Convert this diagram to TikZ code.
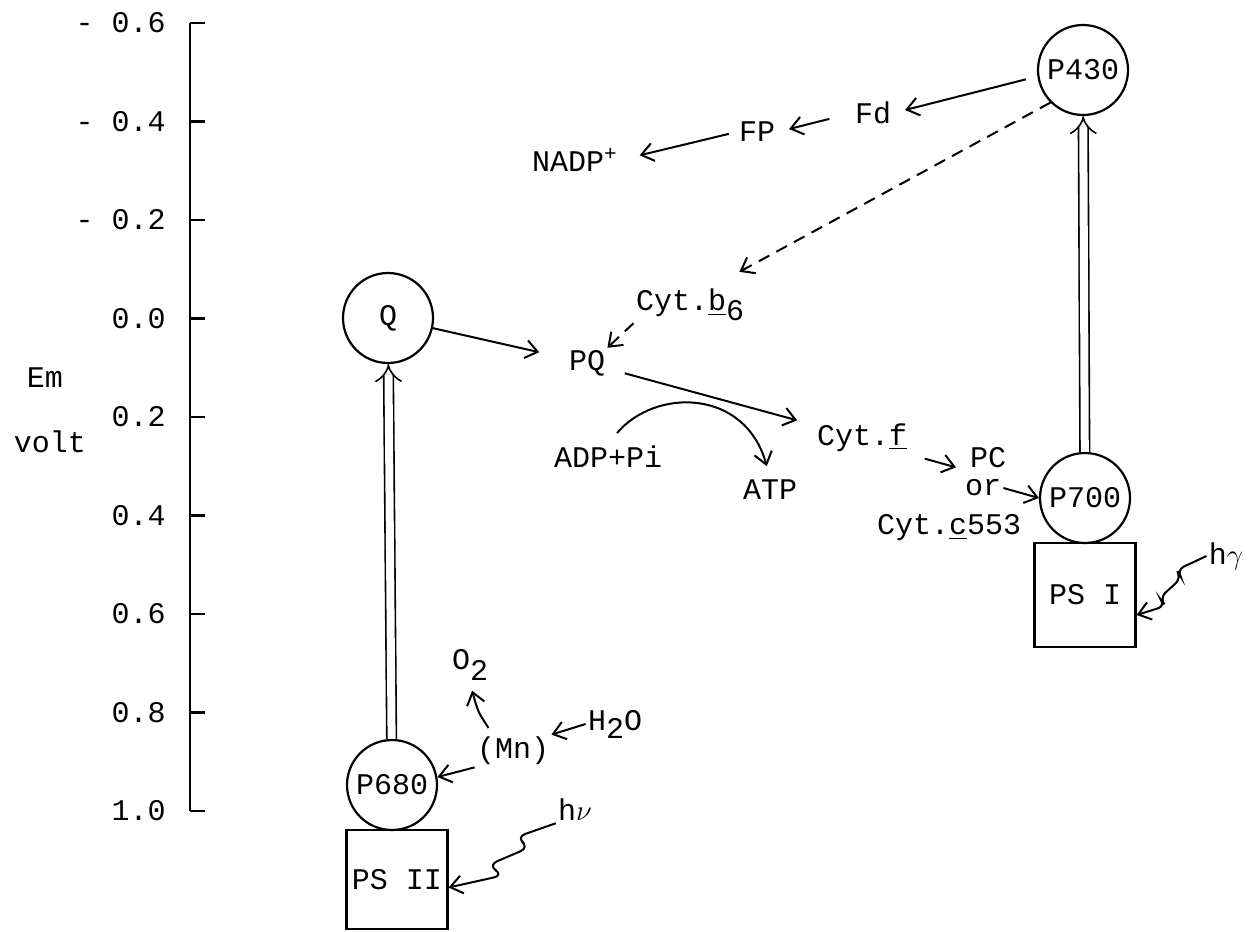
\documentclass[tikz,border=0pt]{standalone}
\usepackage{fontspec}
\setmonofont{Liberation Mono}
\usetikzlibrary{arrows.meta}
\begin{document}
\begin{tikzpicture}[x=0.5pt,y=-0.5pt,
		every node/.style={font=\ttfamily\fontsize{15}{18}\selectfont,inner sep=1pt},
		pig/.style={draw,circle,line width=1.1pt,minimum size=45pt,inner sep=0pt},
		psbox/.style={draw,rectangle,line width=1.1pt,minimum width=50.5pt,inner sep=0pt},
		flow/.style={line width=1pt,-{Straight Barb[length=6pt,width=9pt]}},
		back/.style={flow,dash pattern=on 6pt off 4pt},
		uphill/.style={double,double distance=4pt,line width=0.8pt,-{Implies}}]
	\useasboundingbox (0,0) rectangle (1256,931);
	\draw[line width=1.1pt] (190,23) -- (190,811);
	\foreach \v [count=\i from 0] in {- 0.6,- 0.4,- 0.2,0.0,0.2,0.4,0.6,0.8,1.0}{
		\draw[line width=1.1pt] (190,23+98.5*\i) -- (205,23+98.5*\i);
		\node[anchor=east] (tick\i) at (168,23+98.5*\i) {\v};
	}
	\node (em) at (45,378) {Em};
	\node (volt) at (50,442) {volt};
	\node[pig] (q) at (388,318) {Q};
	\node[pig] (p680) at (392,785) {P680};
	\node[psbox,minimum height=49.5pt] (ps2) at (397,879.5) {PS II};
	\node[pig] (p700) at (1085,498) {P700};
	\node[psbox,minimum height=52pt] (ps1) at (1085,595) {PS I};
	\node[pig] (p430) at (1083,70) {P430};
	\node (pq) at (587,363) {PQ};
	\node (cytb) at (690,305) {Cyt.\underline{b}\raisebox{-0.6ex}{6}};
	\node (fd) at (873,113) {Fd};
	\node (fp) at (757,132) {FP};
	\node (nadp) at (575,160) {NADP\textsuperscript{+}};
	\node (adp) at (608,457) {ADP+Pi};
	\node (atp) at (770,490) {ATP};
	\node (cytf) at (862,438) {Cyt.\underline{f}};
	\node (pc) at (988,458) {PC};
	\node (or) at (983,488) {or};
	\node (cytc) at (949,528) {Cyt.\underline{c}553};
	\node (mn) at (513,751) {(Mn)};
	\node (otwo) at (470,665) {O\raisebox{-0.7ex}{2}};
	\node (water) at (615,724) {H\raisebox{-0.5ex}{2}O};
	\node (hv2) at (575,810) {h$\nu$};
	\node (hv1) at (1226,556) {h$\gamma$};
	\draw[uphill] (p680) -- (q);
	\draw[uphill] (p700) -- (p430);
	\draw[flow,shorten >=14pt] (q) -- (pq);
	\draw[flow,shorten <=9pt,shorten >=9pt] (pq) -- (cytf);
	\draw[flow,shorten <=7pt,shorten >=6pt] (adp.north) .. controls (655,388) and (745,388) .. (atp.north);
	\draw[flow,shorten <=8pt,shorten >=6pt] (cytf.south east) -- (pc.south west);
	\draw[flow] (or.east) -- (p700.west);
	\draw[flow,shorten <=6pt,shorten >=6pt] (p430.188) -- (fd.east);
	\draw[flow,shorten <=12pt,shorten >=6pt] (fd.west) -- (fp.east);
	\draw[flow,shorten <=4pt,shorten >=10pt] (fp.west) -- (nadp.east);
	\draw[back] (p430.225) -- ([shift={(-7,-15)}]cytb.north east);
	\draw[back] (cytb.south west) -- (pq.north east);
	\draw[flow,shorten <=4pt,shorten >=4pt] ([xshift=-10pt]mn.north) .. controls (478,712) .. (otwo.south);
	\draw[flow] (water.west) -- (mn.north east);
	\draw[flow] (mn.south west) -- (p680.10);
	\draw[flow,rounded corners=5pt] (hv2.south west) -- ++(-40,14) -- ++(14,10) -- ++(-42,18) -- ++(16,10) -- ([yshift=-4pt]ps2.east);
	\draw[flow,rounded corners=4pt] (hv1.west) -- ++(-30,14) -- ++(5,8) -- ++(-22,20) -- ++(6,8) -- ([yshift=-10pt]ps1.east);
\end{tikzpicture}
\end{document}
